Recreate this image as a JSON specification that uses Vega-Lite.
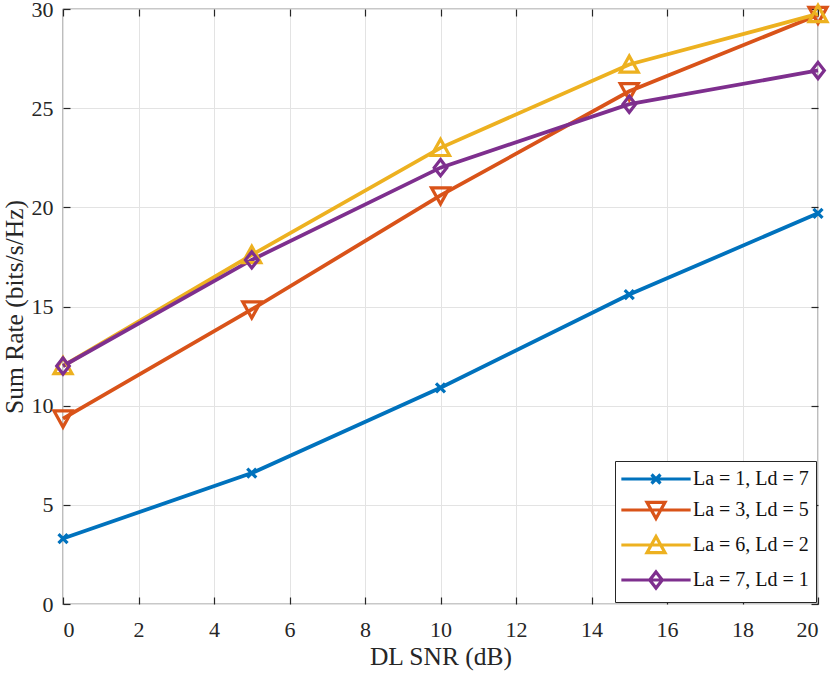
{
  "$schema": "https://vega.github.io/schema/vega-lite/v6.json",
  "width": 755, "height": 595,
  "autosize": {"type": "none"},
  "padding": {"left": 63, "top": 9, "right": 12, "bottom": 69},
  "data": {"values": [
    {"series": "La = 1, Ld = 7", "snr": 0, "rate": 3.3},
    {"series": "La = 1, Ld = 7", "snr": 5, "rate": 6.6},
    {"series": "La = 1, Ld = 7", "snr": 10, "rate": 10.9},
    {"series": "La = 1, Ld = 7", "snr": 15, "rate": 15.6},
    {"series": "La = 1, Ld = 7", "snr": 20, "rate": 19.7},
    {"series": "La = 3, Ld = 5", "snr": 0, "rate": 9.35},
    {"series": "La = 3, Ld = 5", "snr": 5, "rate": 14.85},
    {"series": "La = 3, Ld = 5", "snr": 10, "rate": 20.6},
    {"series": "La = 3, Ld = 5", "snr": 15, "rate": 25.85},
    {"series": "La = 3, Ld = 5", "snr": 20, "rate": 29.7},
    {"series": "La = 6, Ld = 2", "snr": 0, "rate": 12.0},
    {"series": "La = 6, Ld = 2", "snr": 5, "rate": 17.6},
    {"series": "La = 6, Ld = 2", "snr": 10, "rate": 23.0},
    {"series": "La = 6, Ld = 2", "snr": 15, "rate": 27.2},
    {"series": "La = 6, Ld = 2", "snr": 20, "rate": 29.75},
    {"series": "La = 7, Ld = 1", "snr": 0, "rate": 12.0},
    {"series": "La = 7, Ld = 1", "snr": 5, "rate": 17.35},
    {"series": "La = 7, Ld = 1", "snr": 10, "rate": 22.0},
    {"series": "La = 7, Ld = 1", "snr": 15, "rate": 25.2},
    {"series": "La = 7, Ld = 1", "snr": 20, "rate": 26.9}
  ]},
  "layer": [
    {
      "mark": {"type": "line", "strokeWidth": 3.8},
      "encoding": {
        "x": {"field": "snr", "type": "quantitative", "title": "DL SNR (dB)",
          "scale": {"domain": [0, 20], "nice": false},
          "axis": {"values": [0, 2, 4, 6, 8, 10, 12, 14, 16, 18, 20], "grid": true, "tickSize": -7, "labelPadding": 22, "titlePadding": 4}},
        "y": {"field": "rate", "type": "quantitative", "title": "Sum Rate (bits/s/Hz)",
          "scale": {"domain": [0, 30], "nice": false},
          "axis": {"values": [0, 5, 10, 15, 20, 25, 30], "grid": true, "tickSize": -7, "labelPadding": 17, "titlePadding": 4}},
        "color": {"field": "series", "type": "nominal", "title": null, "legend": null,
          "scale": {"domain": ["La = 1, Ld = 7", "La = 3, Ld = 5", "La = 6, Ld = 2", "La = 7, Ld = 1"],
                    "range": ["#0072BD", "#D95319", "#EDB120", "#7E2F8E"]}}
      }
    },
    {
      "mark": {"type": "point", "filled": false, "strokeWidth": 3.2, "size": 324, "opacity": 1},
      "encoding": {
        "x": {"field": "snr", "type": "quantitative",
          "axis": {"orient": "top", "values": [0, 2, 4, 6, 8, 10, 12, 14, 16, 18, 20], "labels": false, "grid": false, "tickSize": -7, "title": null}},
        "y": {"field": "rate", "type": "quantitative",
          "axis": {"orient": "right", "values": [0, 5, 10, 15, 20, 25, 30], "labels": false, "grid": false, "tickSize": -7, "title": null}},
        "color": {"field": "series", "type": "nominal", "title": null, "legend": null},
        "shape": {"field": "series", "type": "nominal", "title": null, "legend": null,
          "scale": {"domain": ["La = 1, Ld = 7", "La = 3, Ld = 5", "La = 6, Ld = 2", "La = 7, Ld = 1"],
                    "range": ["M-0.5,-0.5L0.5,0.5M-0.5,0.5L0.5,-0.5", "M-1,-0.85L1,-0.85L0,0.95Z", "M-1,0.85L1,0.85L0,-0.95Z", "M0,-0.9L0.7,0L0,0.9L-0.7,0Z"]}}
      }
    },
    {
      "mark": {"type": "point", "filled": false, "strokeWidth": 3.2, "size": 324, "opacity": 0},
      "encoding": {
        "x": {"field": "snr", "type": "quantitative", "axis": null},
        "y": {"field": "rate", "type": "quantitative", "axis": null},
        "color": {"field": "series", "type": "nominal", "title": null},
        "shape": {"field": "series", "type": "nominal", "title": null,
          "scale": {"domain": ["La = 1, Ld = 7", "La = 3, Ld = 5", "La = 6, Ld = 2", "La = 7, Ld = 1"],
                    "range": ["M-3.85,0H3.85M-0.5,-0.5L0.5,0.5M-0.5,0.5L0.5,-0.5", "M-3.85,0H3.85M-1,-0.85L1,-0.85L0,0.95Z", "M-3.85,0H3.85M-1,0.85L1,0.85L0,-0.95Z", "M-3.85,0H3.85M0,-0.9L0.7,0L0,0.9L-0.7,0Z"]}}
      }
    }
  ],
  "resolve": {
    "axis": {"x": "independent", "y": "independent"},
    "scale": {"shape": "independent"},
    "legend": {"color": "independent", "shape": "independent"}
  },
  "config": {
    "font": "Liberation Serif",
    "view": {"stroke": "#262626", "strokeWidth": 1.2},
    "axis": {
      "domain": false,
      "gridColor": "#e3e3e3", "gridWidth": 1,
      "tickColor": "#262626", "tickWidth": 1.2,
      "labelFont": "Liberation Serif", "labelFontSize": 22, "labelColor": "#262626",
      "titleFont": "Liberation Serif", "titleFontSize": 25.5, "titleFontWeight": "normal", "titleColor": "#262626"
    },
    "legend": {
      "orient": "bottom-right", "offset": 2,
      "strokeColor": "#262626", "fillColor": "white", "cornerRadius": 0, "padding": 7,
      "labelFont": "Liberation Serif", "labelFontSize": 20, "labelColor": "#111111",
      "symbolSize": 324, "symbolStrokeWidth": 3.2, "symbolOpacity": 1, "rowPadding": 5,
      "symbolOffset": 23, "labelOffset": 26
    }
  }
}
